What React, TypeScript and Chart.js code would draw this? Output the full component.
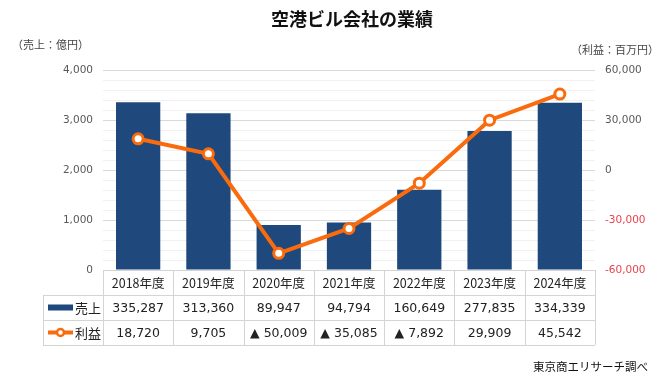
import React, { useEffect, useRef } from "react";
import { Chart, registerables } from "chart.js";

Chart.register(...registerables);

const categories = ["2018年度", "2019年度", "2020年度", "2021年度", "2022年度", "2023年度", "2024年度"];
const salesMillionYen = [335287, 313360, 89947, 94794, 160649, 277835, 334339];
const profitMillionYen = [18720, 9705, -50009, -35085, -7892, 29909, 45542];
const salesLabel = "売上";
const profitLabel = "利益";
const title = "空港ビル会社の業績";
const leftAxisTitle = "（売上：億円）";
const rightAxisTitle = "（利益：百万円）";
const sourceText = "東京商エリサーチ調べ";

const BAR = "#1f497d";
const LINE = "#f96b0c";
const JP = "'Noto Sans CJK JP', sans-serif";
const NUM = "'DejaVu Sans', 'Noto Sans CJK JP', sans-serif";

const fmt = (v: number) => v.toLocaleString("en-US");
const fmtProfit = (v: number) => (v < 0 ? "▲ " + fmt(-v) : fmt(v));

const decor = {
  id: "decor",
  afterDraw(chart: any) {
    const ctx = chart.ctx;
    const area = chart.chartArea;
    const x = chart.scales.x;
    const n = categories.length;
    const w = (area.right - area.left) / n;
    const tableLeft = 43;
    const rowH = 25;
    const top = area.bottom;
    ctx.save();
    // title
    ctx.fillStyle = "#111";
    ctx.textAlign = "center";
    ctx.textBaseline = "middle";
    ctx.font = "bold 18px " + JP;
    ctx.fillText(title, 352, 19);
    ctx.font = "11px " + JP;
    ctx.fillStyle = "#444";
    ctx.textAlign = "left";
    ctx.fillText(leftAxisTitle, 12, 45);
    ctx.fillText(rightAxisTitle, 571, 50);
    ctx.fillStyle = "#111";
    ctx.font = "11.5px " + JP;
    ctx.textAlign = "right";
    ctx.fillText(sourceText, 648, 367);

    // table grid
    ctx.strokeStyle = "#d4d4d4";
    ctx.lineWidth = 1;
    ctx.beginPath();
    for (let r = 0; r <= 3; r++) {
      const y = Math.round(top + r * rowH) + 0.5;
      ctx.moveTo(r === 0 ? area.left : tableLeft, y);
      ctx.lineTo(area.right, y);
    }
    for (let c = 0; c <= n; c++) {
      const xx = Math.round(area.left + c * w) + 0.5;
      ctx.moveTo(xx, top);
      ctx.lineTo(xx, top + 3 * rowH);
    }
    ctx.moveTo(tableLeft + 0.5, top + rowH);
    ctx.lineTo(tableLeft + 0.5, top + 3 * rowH);
    ctx.stroke();

    // table text
    ctx.fillStyle = "#222";
    ctx.textAlign = "center";
    for (let i = 0; i < n; i++) {
      const cx = x.getPixelForValue(i);
      ctx.font = "12.5px " + JP;
      ctx.fillText(categories[i], cx, top + rowH * 0.5 + 1);
      ctx.font = "12.5px " + NUM;
      ctx.fillText(fmt(salesMillionYen[i]), cx, top + rowH * 1.5 + 1);
      ctx.fillText(fmtProfit(profitMillionYen[i]), cx, top + rowH * 2.5 + 1);
    }
    // legend keys
    const y1 = top + rowH * 1.5;
    const y2 = top + rowH * 2.5;
    ctx.fillStyle = BAR;
    ctx.fillRect(48, y1 - 3, 25, 6);
    ctx.strokeStyle = LINE;
    ctx.lineWidth = 4;
    ctx.beginPath();
    ctx.moveTo(48, y2);
    ctx.lineTo(73, y2);
    ctx.stroke();
    ctx.beginPath();
    ctx.arc(60.5, y2, 3.5, 0, Math.PI * 2);
    ctx.fillStyle = "#fff";
    ctx.fill();
    ctx.lineWidth = 2.5;
    ctx.stroke();
    ctx.fillStyle = "#222";
    ctx.textAlign = "left";
    ctx.font = "13px " + JP;
    ctx.fillText(salesLabel, 75, y1 + 1);
    ctx.fillText(profitLabel, 75, y2 + 1);
    ctx.restore();
  },
};

const negColor = (c: any) => {
  let v = c && c.tick ? c.tick.value : undefined;
  if (v === undefined && c && c.chart && c.chart.scales.y2) {
    const t = c.chart.scales.y2.ticks[c.index];
    v = t ? t.value : 0;
  }
  return v < 0 ? "#e8434c" : "#595959";
};

export default function App() {
  const ref = useRef<HTMLCanvasElement | null>(null);
  useEffect(() => {
    if (!ref.current) return;
    const chart = new Chart(ref.current, {
      type: "bar",
      data: {
        labels: categories,
        datasets: [
          {
            type: "line",
            label: profitLabel,
            data: profitMillionYen,
            yAxisID: "y2",
            borderColor: LINE,
            borderWidth: 4,
            pointRadius: 5,
            pointBorderWidth: 3,
            pointBackgroundColor: "#fff",
            pointBorderColor: LINE,
            order: 0,
          },
          {
            type: "bar",
            label: salesLabel,
            data: salesMillionYen.map((v) => v / 100),
            backgroundColor: BAR,
            yAxisID: "y",
            barPercentage: 0.63,
            categoryPercentage: 1,
            order: 1,
          },
        ],
      } as any,
      options: {
        responsive: false,
        animation: false,
        layout: { padding: { top: 70, bottom: 114, left: 0, right: 0 } },
        plugins: { legend: { display: false }, tooltip: { enabled: false }, title: { display: false } },
        scales: {
          x: { display: false },
          y: {
            position: "left",
            min: 0,
            max: 4000,
            afterFit: (s: any) => {
              s.width = 103;
            },
            border: { display: false },
            grid: {
              drawTicks: false,
              color: (c: any) => (c.tick && c.tick.value % 1000 === 0 ? "#d9d9d9" : "#f1f1f1"),
            },
            ticks: {
              stepSize: 200,
              autoSkip: false,
              padding: 10,
              color: "#595959",
              font: { family: NUM, size: 10.5 },
              callback: (v: any) => (Number(v) % 1000 === 0 ? fmt(Number(v)) : ""),
            },
          },
          y2: {
            position: "right",
            min: -60000,
            max: 60000,
            afterFit: (s: any) => {
              s.width = 76;
            },
            border: { display: false },
            grid: { drawOnChartArea: false, drawTicks: false },
            ticks: {
              stepSize: 30000,
              autoSkip: false,
              padding: 10,
              color: negColor,
              font: { family: NUM, size: 10.5 },
              callback: (v: any) => fmt(Number(v)),
            },
          },
        },
      } as any,
      plugins: [decor],
    });
    return () => chart.destroy();
  }, []);
  return (
    <div style={{ position: "fixed", left: 0, top: 0, width: 671, height: 384, background: "#fff" }}>
      <canvas ref={ref} width={671} height={384} style={{ width: 671, height: 384 }} />
    </div>
  );
}
